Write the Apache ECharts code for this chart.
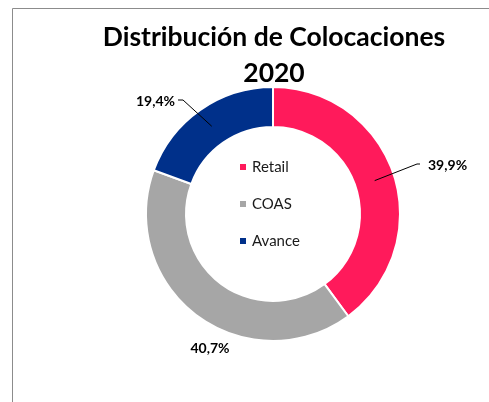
<!DOCTYPE html>
<html>
<head>
<meta charset="utf-8">
<script src="https://cdn.jsdelivr.net/npm/echarts@6/dist/echarts.min.js"></script>
<style>
html,body{margin:0;padding:0;background:#fff;}
#c{width:489px;height:402px;}
</style>
</head>
<body>
<div id="c"></div>
<script>
const titleLines = ['Distribución de Colocaciones', '2020'];
const categories = ['Retail', 'COAS', 'Avance'];
const values = [39.9, 40.7, 19.4];
const colors = ['#FF1A5B', '#A6A6A6', '#00308A'];

const labelPlace = [
  {x: 428, y: 165, align: 'left', verticalAlign: 'middle', k1: -11, k2: -8},
  {x: 210, y: 348, align: 'center', verticalAlign: 'middle'},
  {x: 175, y: 101, align: 'right', verticalAlign: 'middle', k1: 8, k2: 3}
];

const chart = echarts.init(document.getElementById('c'), null, {renderer: 'canvas'});
const FONT = 'Lato, "Open Sans", sans-serif';

const pieBase = {
  type: 'pie',
  center: [273, 214],
  radius: [87, 127],
  startAngle: 90,
  clockwise: true,
  avoidLabelOverlap: false,
  emphasis: {disabled: true}
};

chart.setOption({
  animation: false,
  backgroundColor: '#fff',
  graphic: [{
    type: 'rect',
    shape: {x: 12.5, y: 8.5, width: 600, height: 500},
    style: {fill: 'none', stroke: '#8c8c8c', lineWidth: 1},
    silent: true, z: -1
  }],
  title: {
    text: titleLines.join('\n'),
    left: 274,
    textAlign: 'center',
    top: 19,
    padding: 0,
    textStyle: {
      fontFamily: FONT, fontWeight: 'bold', fontSize: 26.5, lineHeight: 36, color: '#000'
    }
  },
  legend: {
    orient: 'vertical',
    left: 238,
    top: 159,
    itemWidth: 8,
    itemHeight: 8,
    itemGap: 21,
    icon: 'rect',
    padding: 0,
    textStyle: {fontFamily: FONT, fontSize: 15, lineHeight: 16, color: '#1a1a1a'},
    data: categories
  },
  series: [
    Object.assign({}, pieBase, {
      z: 2,
      itemStyle: {borderColor: '#fff', borderWidth: 2},
      label: {show: false},
      labelLine: {show: false},
      data: categories.map((c, i) => ({name: c, value: values[i], itemStyle: {color: colors[i]}}))
    }),
    Object.assign({}, pieBase, {
      z: 5,
      silent: true,
      legendHoverLink: false,
      itemStyle: {color: 'rgba(0,0,0,0)', borderWidth: 0},
      label: {
        show: true,
        position: 'outside',
        fontFamily: FONT, fontWeight: 'bold', fontSize: 14, color: '#000',
        formatter: p => p.value.toFixed(1).replace('.', ',') + '%'
      },
      labelLine: {show: true, showAbove: true, length: 20, length2: 4, lineStyle: {color: '#000', width: 1}},
      labelLayout: function (p) {
        const l = labelPlace[p.dataIndex];
        const out = {x: l.x, y: l.y, align: l.align, verticalAlign: l.verticalAlign};
        const pts = p.labelLinePoints;
        if (l.k1 != null && pts && pts.length >= 2) {
          const p0 = pts[0], p1 = pts[1];
          const dx = p1[0] - p0[0], dy = p1[1] - p0[1];
          const len = Math.sqrt(dx * dx + dy * dy) || 1;
          const inner = [p0[0] - dx / len * 20, p0[1] - dy / len * 20];
          out.labelLinePoints = [inner, [l.x + l.k1, l.y - 1], [l.x + l.k2, l.y - 1]];
        }
        return out;
      },
      data: categories.map((c, i) => ({
        name: c, value: values[i],
        labelLine: {show: i !== 1}
      }))
    })
  ]
});
</script>
</body>
</html>
